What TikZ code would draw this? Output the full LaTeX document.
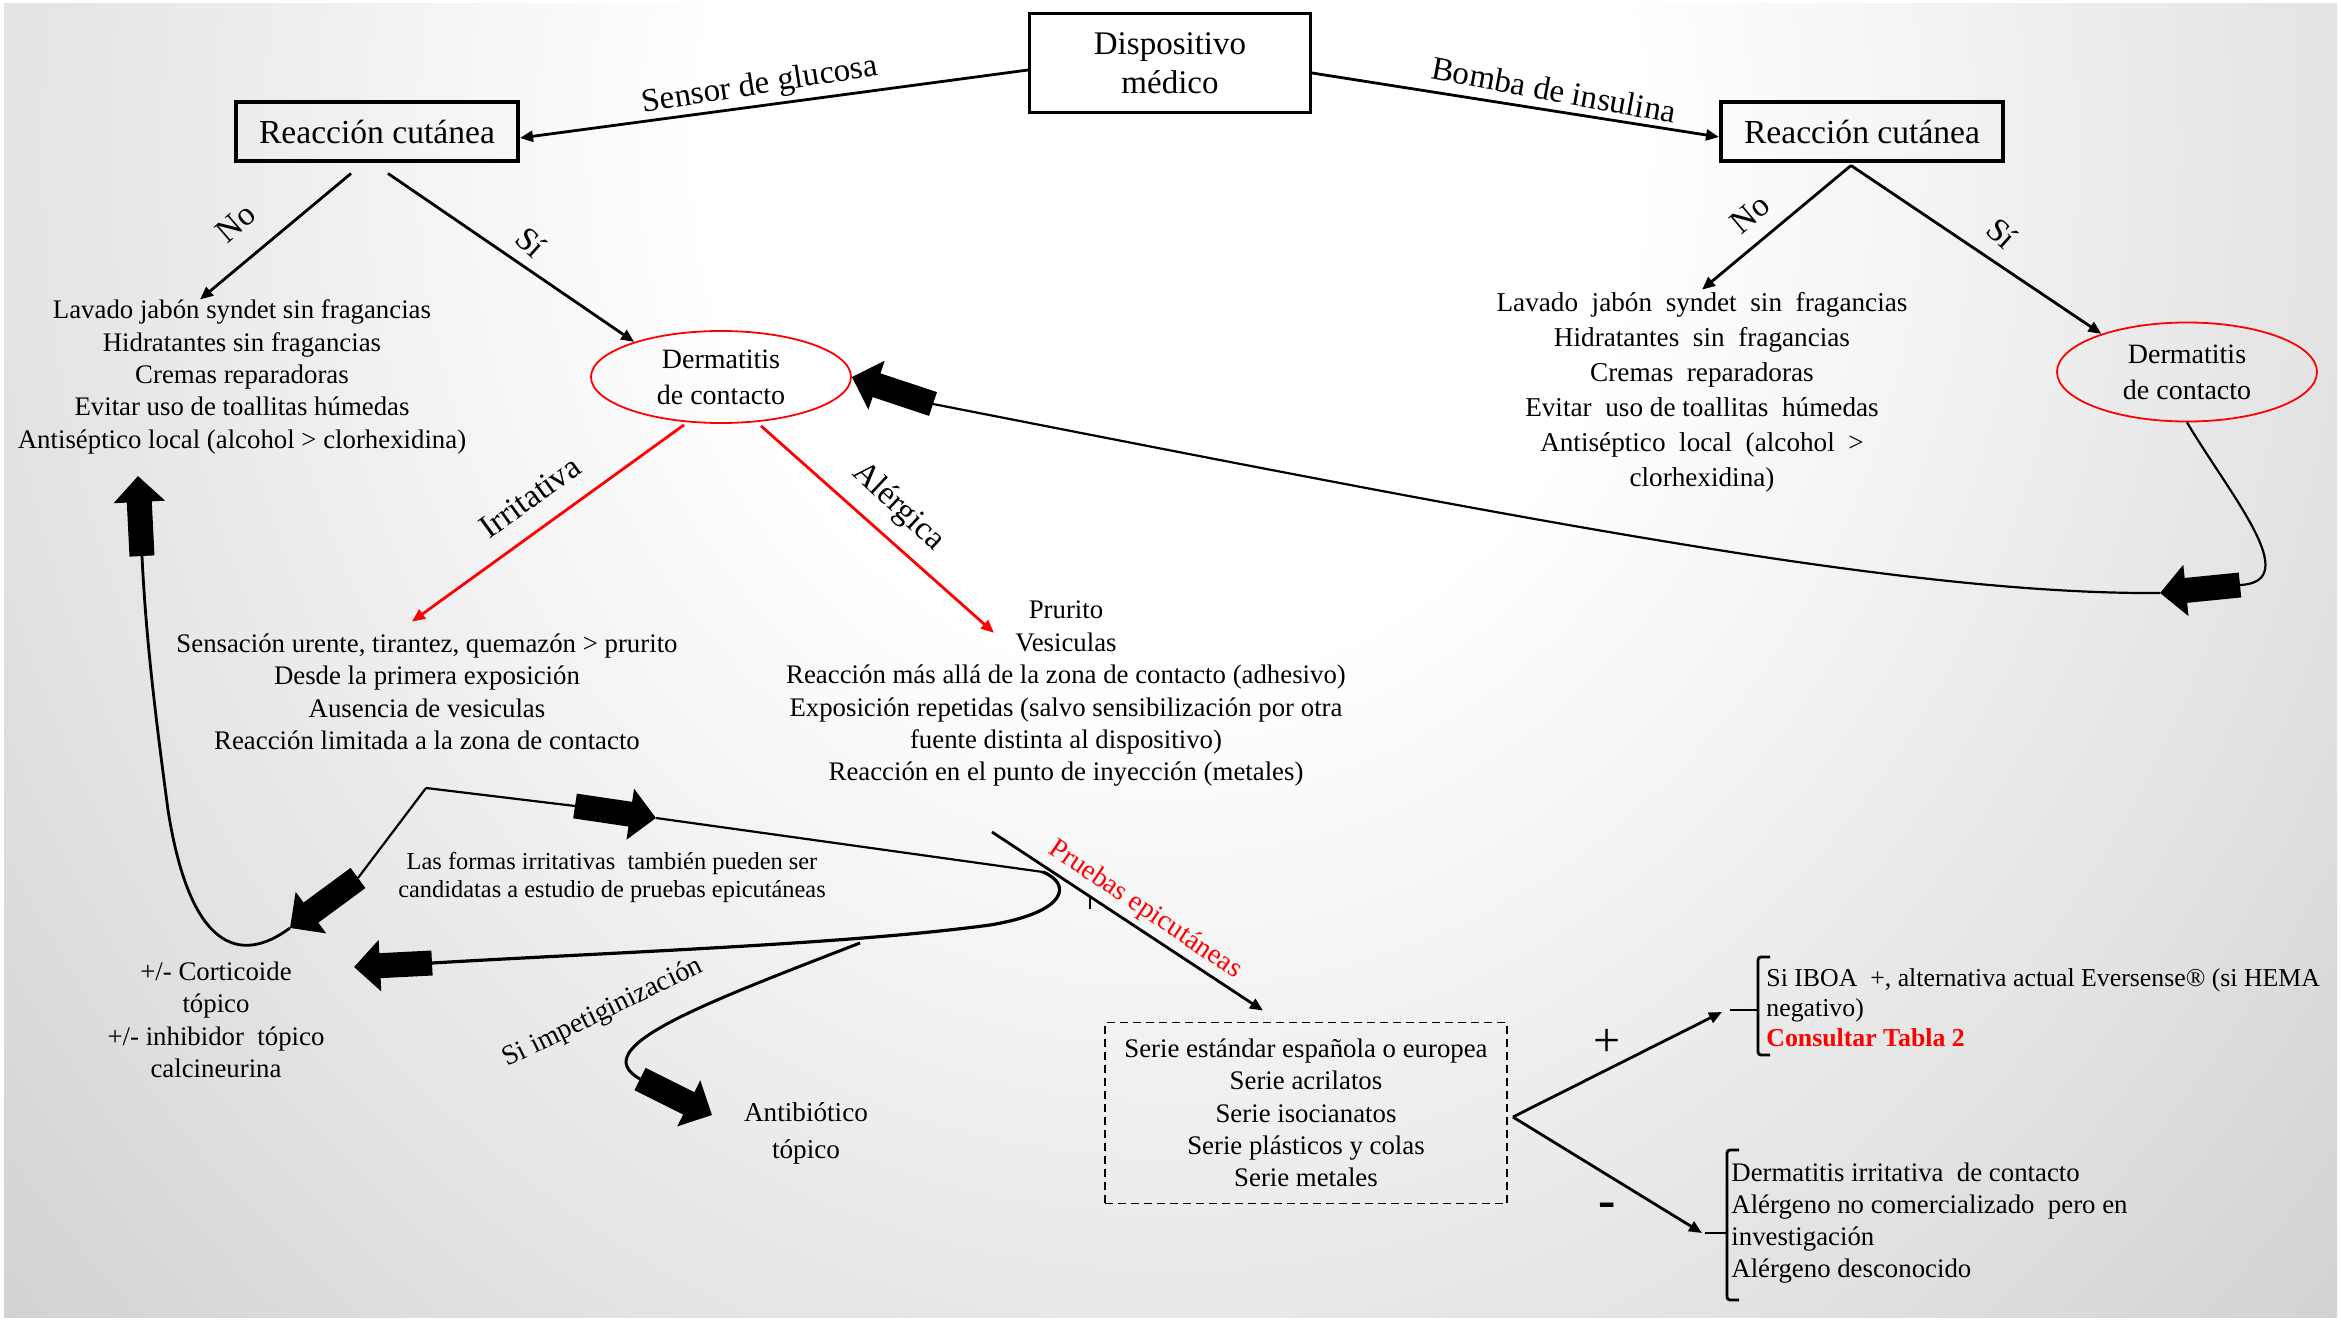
\documentclass[tikz,border=0pt]{standalone}
\usepackage{fontspec}
\setmainfont{Liberation Serif}
\usetikzlibrary{arrows.meta,shapes.geometric,calc}
\pgfdeclareradialshading{bgshade}{\pgfpoint{0bp}{0bp}}{color(0bp)=(white); color(10bp)=(white); color(25bp)=(black!11); color(38bp)=(black!21); color(45bp)=(black!28); color(50bp)=(black!36); color(60bp)=(black!38); color(70bp)=(black!36)}
\tikzset{
  base/.style={font=\fontsize{13.4}{16.2}\selectfont, align=center, inner sep=0pt},
  lbl/.style={font=\fontsize{16.5}{19}\selectfont, inner sep=0pt},
  rbox/.style={draw, line width=2pt, minimum width=141pt, minimum height=29.5pt, inner sep=0pt, font=\fontsize{16.8}{19}\selectfont},
  ell/.style={ellipse, draw=red, line width=0.9pt, minimum width=130pt, minimum height=46pt, inner sep=0pt, align=center, font=\fontsize{14}{18}\selectfont},
  arr/.style={line width=1.4pt, -{Triangle[length=6.5pt,width=5.5pt]}},
  redarr/.style={arr, draw=red},
  fat/.style={line width=12.5pt, -{Triangle[length=13pt,width=25pt]}},
  thin/.style={line width=1.1pt},
}
\begin{document}
\begin{tikzpicture}[x=0.5pt,y=-0.5pt]
\useasboundingbox (0,0) rectangle (2341,1321);
\fill[white] (0,0) rectangle (2341,1321);
\begin{scope}
\clip (4,4) rectangle (2337,1317);
\shade[shading=bgshade] (0,-1150) rectangle (2341,1450);
\end{scope}

% nodes
\node[draw, line width=1.5pt, minimum width=140.5pt, minimum height=49.5pt, align=center, inner sep=0pt,
      font=\fontsize{16.5}{19.5}\selectfont] (disp) at (1170,63) {Dispositivo\\médico};
\node[rbox] (reacL) at (377,132) {Reacción cutánea};
\node[rbox] (reacR) at (1862,132) {Reacción cutánea};

\node[base] (listL) at (242,377) {Lavado jabón syndet sin fragancias\\Hidratantes sin fragancias\\Cremas reparadoras\\Evitar uso de toallitas húmedas\\Antiséptico local (alcohol > clorhexidina)};
\node[base, font=\fontsize{13.6}{17.5}\selectfont] (listR) at (1702,392) {Lavado \ jabón \ syndet \ sin \ fragancias\\Hidratantes \ sin \ fragancias\\Cremas \ reparadoras\\Evitar \ uso de toallitas \ húmedas\\Antiséptico \ local \ (alcohol \ >\\clorhexidina)};

\node[ell] (ellL) at (721,377) {Dermatitis\\de contacto};
\node[ell, minimum height=49.5pt] (ellR) at (2187,372) {Dermatitis\\de contacto};

\node[base] (irrL) at (427,692) {Sensación urente, tirantez, quemazón > prurito\\Desde la primera exposición\\Ausencia de vesiculas\\Reacción limitada a la zona de contacto};
\node[base] (alerL) at (1066,694) {Prurito\\Vesiculas\\Reacción más allá de la zona de contacto (adhesivo)\\Exposición repetidas (salvo sensibilización por otra\\fuente distinta al dispositivo)\\Reacción en el punto de inyección (metales)};

\node[base, font=\fontsize{12.2}{14}\selectfont] (formas) at (612,878) {Las formas irritativas \ también pueden ser\\candidatas a estudio de pruebas epicutáneas};
\node[base] (cort) at (216,1020) {+/- Corticoide\\tópico\\+/- inhibidor \ tópico\\calcineurina};
\node[base, font=\fontsize{13.6}{18.5}\selectfont] (antib) at (806,1133) {Antibiótico\\tópico};

\node[base, draw, dash pattern=on 4pt off 2.5pt, line width=0.9pt, minimum width=201pt, minimum height=90.5pt] (serie) at (1306,1113) {Serie estándar española o europea\\Serie acrilatos\\Serie isocianatos\\Serie plásticos y colas\\Serie metales};

\node[base, align=left, anchor=west, font=\fontsize{12.9}{15}\selectfont] (pos) at (1766,1008) {Si IBOA \ +, alternativa actual Eversense® (si HEMA\\negativo)\\\textcolor{red}{\bfseries Consultar Tabla 2}};
\node[base, align=left, anchor=west, font=\fontsize{13.4}{16}\selectfont] (neg) at (1731,1223) {Dermatitis irritativa \ de contacto\\Alérgeno no comercializado \ pero en\\investigación\\Alérgeno desconocido};

% labels
\node[lbl, rotate=9] (lsensor) at (760,86) {Sensor de glucosa};
\node[lbl, rotate=-10.5] (lbomba) at (1554,90) {Bomba de insulina};
\node[lbl, rotate=41] (lnoL) at (236,223) {No};
\node[lbl, rotate=-42] (lsiL) at (531,242) {Sí};
\node[lbl, rotate=40] (lnoR) at (1750,214) {No};
\node[lbl, rotate=-42] (lsiR) at (2002,233) {Sí};
\node[lbl, rotate=36] (lirr) at (530,497) {Irritativa};
\node[lbl, rotate=-43] (lale) at (898,507) {Alérgica};
\node[lbl, rotate=-34, text=red, font=\fontsize{14}{16}\selectfont] (lpru) at (1145,910) {Pruebas epicutáneas};
\node[lbl, rotate=26, font=\fontsize{14}{16}\selectfont] (limp) at (603,1013) {Si impetiginización};
\node[font=\fontsize{24}{24}\selectfont, inner sep=0pt] (lplus) at (1607,1043) {+};
\node[font=\fontsize{26}{26}\selectfont\bfseries, inner sep=0pt] (lminus) at (1607,1210) {-};

% main connectors
\draw[arr] ([yshift=-3.5pt]disp.west) -- ([yshift=-3pt]reacL.east);
\draw[arr] ([yshift=-5pt]disp.east) -- ([yshift=-2.5pt]reacR.west);
\draw[arr] ($(reacL.south)+(-26,10)$) -- ($(listL.north)+(-42,0)$);
\draw[arr] ($(reacL.south)+(11,10)$) -- (ellL.158);
\draw[arr] ($(reacR.south)+(-11,2)$) -- ($(listR.north)+(0,-2)$);
\draw[arr] ($(reacR.south)+(-11,2)$) -- (ellR.156);
\draw[redarr] ($(ellL.south)+(-37,1)$) -- ($(irrL.north)+(-15,-12)$);
\draw[redarr] ($(ellL.south)+(40,2)$) -- ($(alerL.north)+(-72,32)$);
\draw[arr] (992,832) coordinate (pru0) -- ($(serie.north)+(-43,-11)$);
\draw[line width=0.8pt] (1090,897) -- (1090,909);

% big return loop from right dermatitis to left dermatitis
\coordinate (f2t) at (2240,585);
\coordinate (f2h) at (2160,593);
\coordinate (f1t) at (933,404);
\draw[thin] (ellR.south) .. controls (2230,495) and (2305,582) .. (f2t);
\draw[thin] (f2h) .. controls (1900,595) and (1500,515) .. (f1t);
\draw[fat] (f2t) -- (f2h);
\draw[fat] (f1t) -- (ellL.east);

% irritative branch
\coordinate (br) at (426,788);
\coordinate (f4t) at (575,806);
\coordinate (f4h) at (656,818);
\coordinate (f5t) at (358,878);
\coordinate (f5h) at (290,928);
\coordinate (f3t) at (142,556);
\coordinate (f3h) at (138,476);
\coordinate (f6t) at (432,963);
\coordinate (f6h) at (354,967);
\coordinate (lp) at (1043,872);
\coordinate (imp) at (860,943);
\coordinate (f7t) at (640,1079);
\coordinate (f7h) at (712,1115);

\draw[thin] (br) -- (f5t);
\draw[thin] (br) -- (f4t);
\draw[thin] (f4h) -- (lp);
\draw[line width=1.6pt] (lp) .. controls (1072,884) and (1068,912) .. (990,925)
   .. controls (850,944) and (620,952) .. (f6t);
\draw[line width=1.5pt] (imp) .. controls (700,1005) and (585,1048) .. (f7t);
\draw[line width=1.4pt] (f5h) .. controls (240,965) and (190,950) .. (168,810)
   .. controls (156,720) and (146,640) .. (f3t);
\draw[fat] (f4t) -- (f4h);
\draw[fat] (f5t) -- (f5h);
\draw[fat] (f3t) -- (f3h);
\draw[fat] (f6t) -- (f6h);
\draw[fat] (f7t) -- (f7h);

% test results
\coordinate (pa) at (1722,1012);
\coordinate (na) at (1702,1233);
\draw[arr] ($(serie.east)+(5,4)$) coordinate (sr) -- (pa);
\draw[arr] (sr) -- (na);
\draw[line width=1.4pt, rounded corners=1.5pt] (1770,957) -- (1758,957) -- (1758,1055) -- (1770,1055);
\draw[line width=1.4pt] (1730,1010) -- (1758,1010);
\draw[line width=1.4pt, rounded corners=1.5pt] (1739,1150) -- (1727,1150) -- (1727,1300) -- (1739,1300);
\draw[line width=1.4pt] (1705,1233) -- (1727,1233);
\end{tikzpicture}
\end{document}
